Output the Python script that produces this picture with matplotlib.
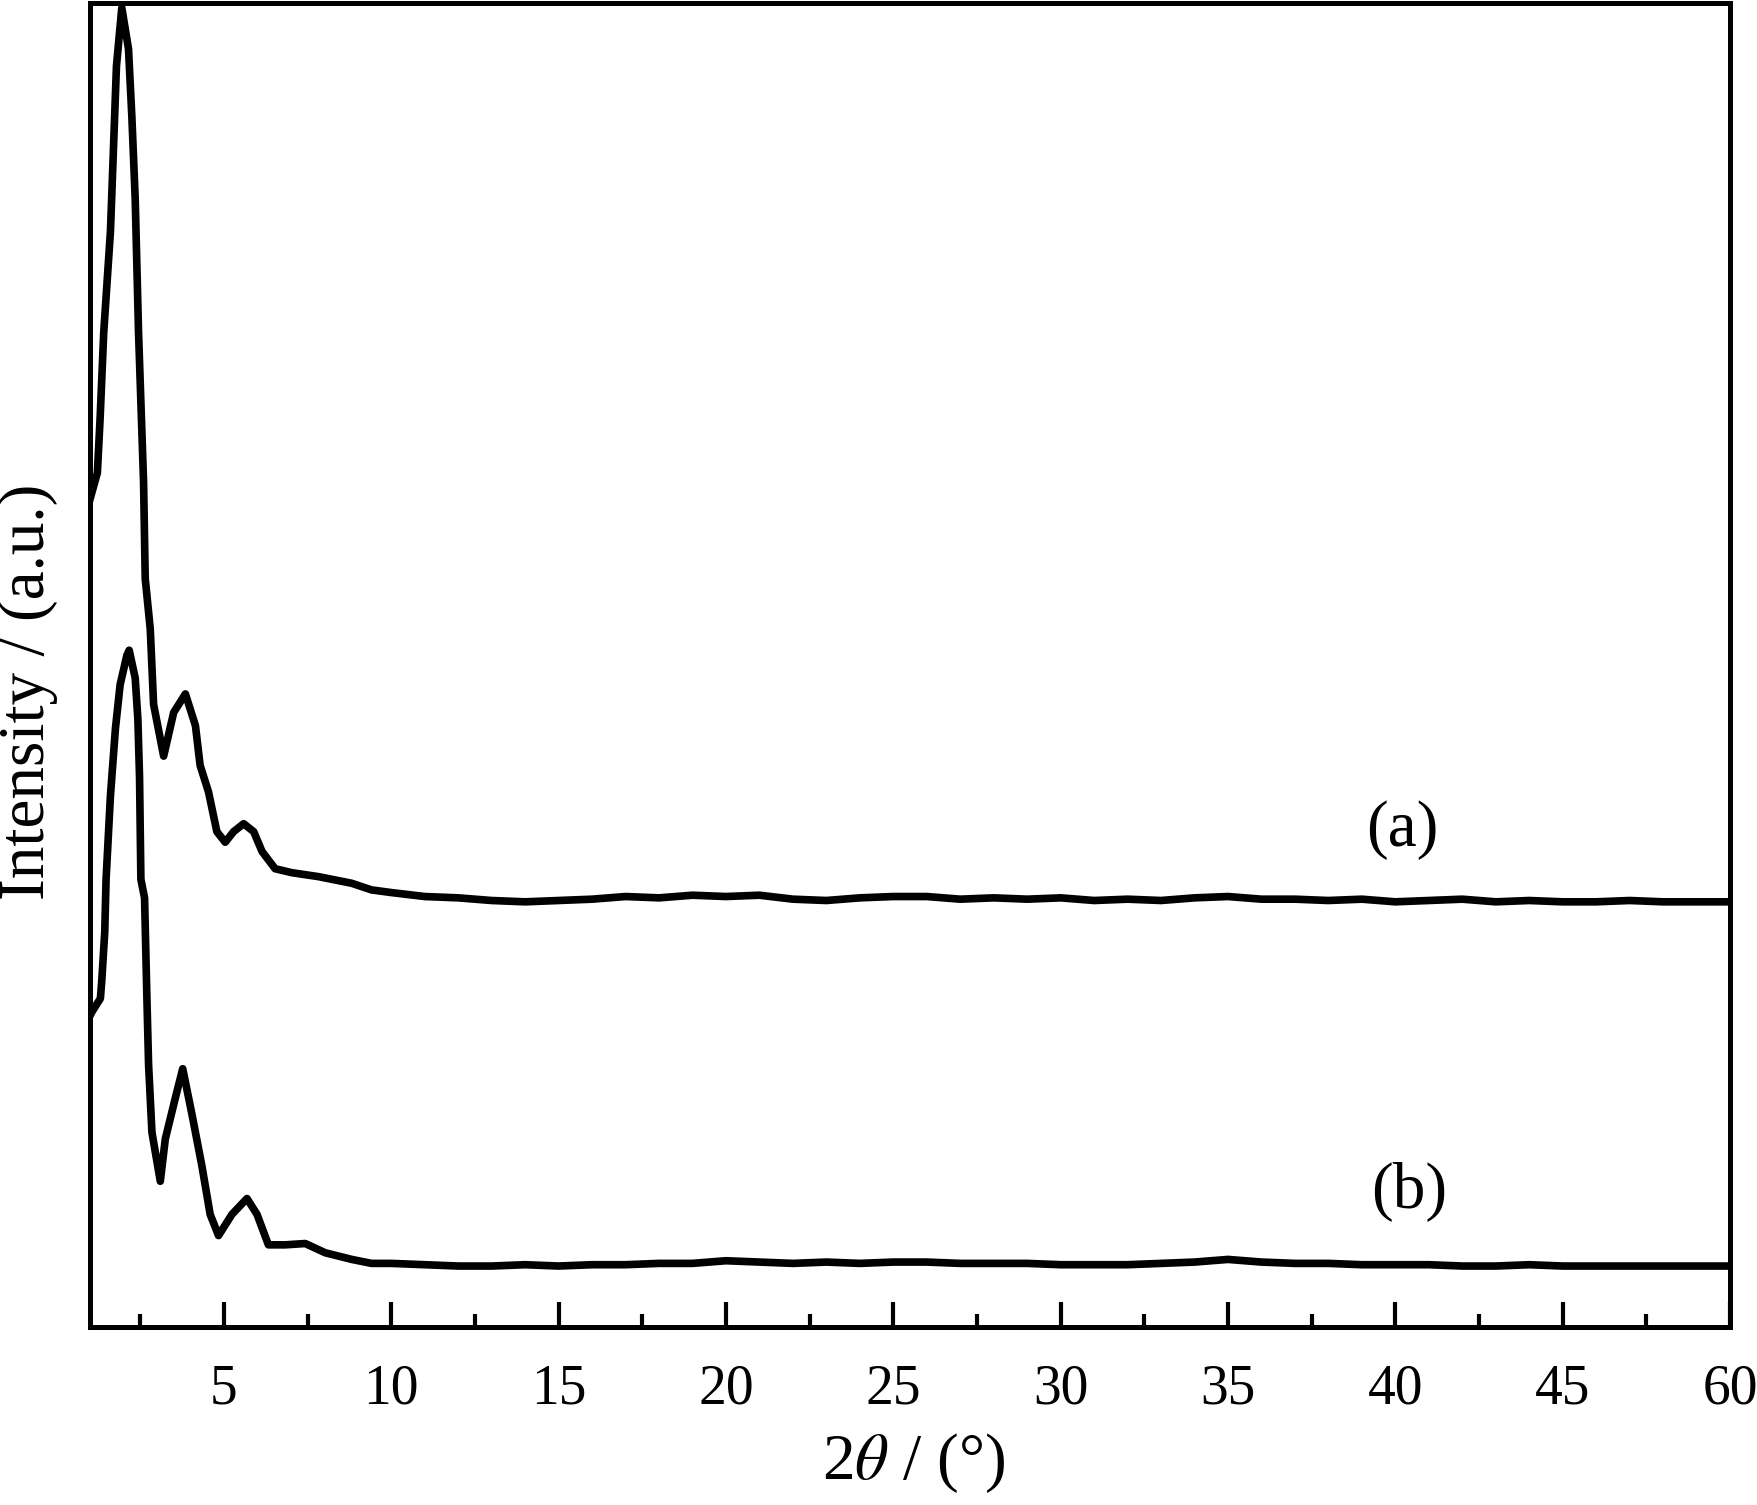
import matplotlib
matplotlib.use("Agg")
import matplotlib.pyplot as plt
from matplotlib.ticker import FixedLocator

plt.rcParams['font.family'] = ['Liberation Serif', 'DejaVu Serif']
plt.rcParams['mathtext.fontset'] = 'stix'

# curve (a): low-angle part read point by point, then the flat tail
a_peak_x = [1.0, 1.22, 1.30, 1.41, 1.61, 1.70, 1.79, 1.95, 2.15, 2.25, 2.35, 2.45,
            2.60, 2.65, 2.80, 2.90, 3.20, 3.50, 3.85, 4.15, 4.29, 4.54, 4.79, 5.04,
            5.29, 5.59, 5.89, 6.14, 6.53, 7.03, 7.83, 8.82, 9.41]
a_peak_y = [62.5, 64.5, 68.5, 75.1, 82.7, 88.9, 95.2, 99.6, 96.5, 91.4, 85.2, 75.1,
            63.8, 56.5, 52.7, 47.0, 43.1, 46.4, 47.8, 45.4, 42.4, 40.4, 37.4, 36.6,
            37.4, 38.0, 37.4, 35.9, 34.6, 34.3, 34.0, 33.5, 33.0]

# curve (b)
b_peak_x = [1.0, 1.06, 1.31, 1.35, 1.44, 1.48, 1.61, 1.76, 1.90, 2.10, 2.17, 2.35,
            2.43, 2.48, 2.52, 2.63, 2.70, 2.75, 2.85, 3.10, 3.25, 3.55, 3.77, 4.05,
            4.34, 4.59, 4.84, 5.24, 5.69, 5.99, 6.33, 6.83, 7.43, 8.03, 8.82, 9.41]
b_peak_y = [23.5, 23.8, 24.8, 26.1, 29.8, 33.8, 40.1, 45.2, 48.5, 50.7, 51.1, 49.0,
            45.9, 41.5, 33.8, 32.4, 24.8, 19.8, 14.7, 11.0, 14.2, 17.3, 19.5, 16.0,
            12.2, 8.5, 6.9, 8.5, 9.7, 8.5, 6.2, 6.2, 6.3, 5.6, 5.1, 4.8]

tail_x = list(range(10, 51))
a_tail_y = [32.8, 32.5, 32.4, 32.2, 32.1, 32.2, 32.3, 32.5, 32.4, 32.6,
            32.5, 32.6, 32.3, 32.2, 32.4, 32.5, 32.5, 32.3, 32.4, 32.3,
            32.4, 32.2, 32.3, 32.2, 32.4, 32.5, 32.3, 32.3, 32.2, 32.3,
            32.1, 32.2, 32.3, 32.1, 32.2, 32.1, 32.1, 32.2, 32.1, 32.1, 32.1]
b_tail_y = [4.8, 4.7, 4.6, 4.6, 4.7, 4.6, 4.7, 4.7, 4.8, 4.8,
            5.0, 4.9, 4.8, 4.9, 4.8, 4.9, 4.9, 4.8, 4.8, 4.8,
            4.7, 4.7, 4.7, 4.8, 4.9, 5.1, 4.9, 4.8, 4.8, 4.7,
            4.7, 4.7, 4.6, 4.6, 4.7, 4.6, 4.6, 4.6, 4.6, 4.6, 4.6]

tick_pos = [5, 10, 15, 20, 25, 30, 35, 40, 45, 50]
tick_labels = ['5', '10', '15', '20', '25', '30', '35', '40', '45', '60']
minor_pos = [2.5, 7.5, 12.5, 17.5, 22.5, 27.5, 32.5, 37.5, 42.5, 47.5]

fig = plt.figure(figsize=(17.58, 15.05), dpi=100)
ax = fig.add_axes([0.0512, 0.1183, 0.9329, 0.8800])

ax.plot(a_peak_x + tail_x, a_peak_y + a_tail_y, color='black', lw=5.5, solid_joinstyle='round')
ax.plot(b_peak_x + tail_x, b_peak_y + b_tail_y, color='black', lw=5.5, solid_joinstyle='round')

ax.text(40.2, 37.5, '(a)', fontsize=47, ha='center', va='center')
ax.text(40.4, 10.2, '(b)', fontsize=47, ha='center', va='center')

ax.set_xlim(1, 50)
ax.set_ylim(0, 100)
ax.xaxis.set_major_locator(FixedLocator(tick_pos))
ax.set_xticklabels(tick_labels)
ax.xaxis.set_minor_locator(FixedLocator(minor_pos))
ax.tick_params(axis='x', which='major', direction='in', length=18, width=3,
               labelsize=40, pad=26)
ax.tick_params(axis='x', which='minor', direction='in', length=9.5, width=3)
ax.set_yticks([])
for s in ax.spines.values():
    s.set_linewidth(3.6)

fig.text(0.520, 0.028, r'2$\theta$ / (°)', fontsize=47, ha='center', va='center')
fig.text(0.0159, 0.540, 'Intensity / (a.u.)', fontsize=47, ha='center', va='center',
         rotation=90)

fig.savefig('out.png', dpi=100)
